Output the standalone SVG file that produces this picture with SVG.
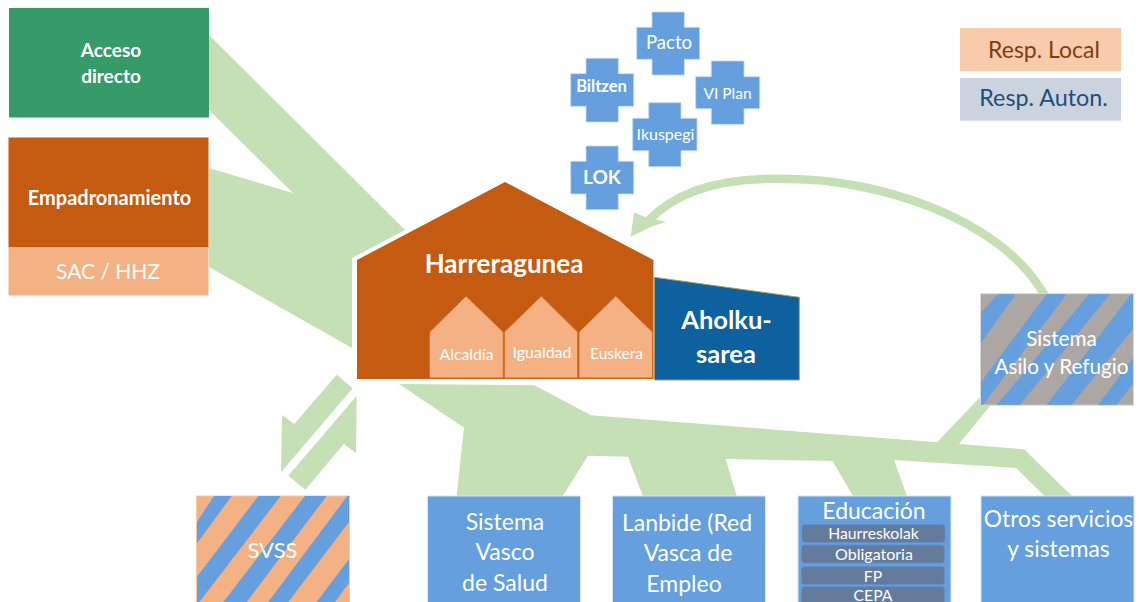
<svg xmlns="http://www.w3.org/2000/svg" width="1139" height="602" viewBox="0 0 1139 602">
<style>
text{font-family:"Lato","Carlito","Open Sans",sans-serif;fill:#fff;text-anchor:middle}
.b{font-weight:700}
.flow{fill:#c5e0b4;stroke:none}
.blue{fill:#659fde}
.cross{fill:#659fde;stroke:#c4d9f0;stroke-width:.8}
.bx{stroke:#dbe6f3;stroke-width:1}
.org{fill:#c55a11}
.lo{fill:#f4b183}
.sub{fill:#f4b183;stroke:#d9681f;stroke-width:1}
.pill{fill:#647b9c;stroke:#5b91cf;stroke-width:.8}
</style>
<g id="connectors">
<polygon class="flow" points="209,35 405,230 352,258 352,348 209,267 209,168 293,193 209,110"/>
<polygon class="flow" points="336.7,374.7 352.7,388.3 281,472.3 282,415 294.3,424"/>
<polygon class="flow" points="356.7,395.7 356,453 343.7,444 305.3,489.7 288.3,475.7"/>
<polygon class="flow" points="399,384 534.3,385.3 591,415.3 937,442.3 985,392 995,400 959,444 1024,449.3 1072,496 1044.5,496 1016,468 894,460 907,496 853,496 832.5,461 725.7,459 736.7,496 642.8,496 628,456.7 588,455.7 562.7,496 456.7,496 464,427.7"/>
<path d="M1045,296C1000,215 870,178 786,179C730,177 680,187 648,221" fill="none" stroke="#c5e0b4" stroke-width="8.500"/>
<polygon class="flow" points="630.7,236.7 634,212.3 645,217 666,222 653,226"/>
</g>
<g id="acceso"><rect x="9" y="8" width="200" height="109.500" fill="#359b68"/>
<text class="b" x="111" y="57" font-size="19">Acceso</text><text class="b" x="111" y="83" font-size="19">directo</text></g>
<g id="empadronamiento"><rect class="org" x="8.500" y="137.500" width="200" height="110"/>
<text class="b" x="109.500" y="205" font-size="20">Empadronamiento</text></g>
<g id="sac"><rect class="lo" x="8.500" y="247" width="200" height="48.500"/>
<text x="108" y="279" font-size="21">SAC / HHZ</text></g>
<g id="harreragunea"><polygon class="org" points="505,182 653.500,260 653.500,379 357,379 357,260"/>
<text class="b" x="504" y="273" font-size="26">Harreragunea</text></g>
<g id="alcaldia"><polygon class="sub" points="429.500,332 466,296 503.300,332 503.300,378 429.500,378"/>
<text x="466.500" y="360" font-size="15.800">Alcaldía</text></g>
<g id="igualdad"><polygon class="sub" points="504.300,332 541.300,296 577.700,332 577.700,378 504.300,378"/>
<text x="542" y="358" font-size="16">Igualdad</text></g>
<g id="euskera"><polygon class="sub" points="579,332 615.700,296 652.500,332 652.500,378 579,378"/>
<text x="616.500" y="359" font-size="15.500">Euskera</text></g>
<g id="aholkusarea"><polygon points="654.300,277.300 799.300,297.300 799.300,380 654.300,380" fill="#0c619e" stroke="#b39c56" stroke-width="1"/>
<text class="b" x="726.500" y="329" font-size="25.500">Aholku-</text><text class="b" x="726" y="363" font-size="25.500">sarea</text></g>
<g id="pacto"><polygon class="cross" points="652,12 684.300,12 684.300,27.300 699.700,27.300 699.700,59.300 684.300,59.300 684.300,75 652,75 652,59.300 636.700,59.300 636.700,27.300 652,27.300"/>
<text x="669" y="49" font-size="18.600">Pacto</text></g>
<g id="biltzen"><polygon class="cross" points="586,58.300 618.300,58.300 618.300,73.700 633.700,73.700 633.700,106.300 618.300,106.300 618.300,122 586,122 586,106.300 570.700,106.300 570.700,73.700 586,73.700"/>
<text class="b" x="601.500" y="92" font-size="16.500">Biltzen</text></g>
<g id="viplan"><polygon class="cross" points="711.300,61 744,61 744,76.700 759.700,76.700 759.700,108.700 744,108.700 744,124.300 711.300,124.300 711.300,108.700 695.700,108.700 695.700,76.700 711.300,76.700"/>
<text x="727.500" y="99" font-size="15.500">VI Plan</text></g>
<g id="ikuspegi"><polygon class="cross" points="648.700,102.700 681,102.700 681,118.300 697,118.300 697,150.700 681,150.700 681,166.700 648.700,166.700 648.700,150.700 632.700,150.700 632.700,118.300 648.700,118.300"/>
<text x="665.500" y="140" font-size="16">Ikuspegi</text></g>
<g id="lok"><polygon class="cross" points="586,146 618.300,146 618.300,161.300 633.700,161.300 633.700,194 618.300,194 618.300,209.700 586,209.700 586,194 570.700,194 570.700,161.300 586,161.300"/>
<text class="b" x="602" y="184" font-size="19">LOK</text></g>
<g id="resp-local"><rect x="960" y="28" width="161" height="43" fill="#f8cbad"/>
<text x="1044" y="58" font-size="23" style="fill:#843c0c">Resp. Local</text></g>
<g id="resp-auton"><rect x="960" y="78" width="161" height="42.700" fill="#cbd4de"/>
<text x="1043.500" y="106" font-size="23.300" style="fill:#1f4e79">Resp. Auton.</text></g>
<g id="asilo"><rect x="980.500" y="293.700" width="153" height="111.500" fill="#aca7a5" stroke="#d9d9d9" stroke-width="1"/>
<g class="blue">
<polygon points="998,294.200 1015.700,294.200 981,343 981,313"/>
<polygon points="1046.700,294.200 1066.700,294.200 983,404.700 981,404.700 981,382"/>
<polygon points="1089,294.200 1110,294.200 1020,404.700 997,404.700"/>
<polygon points="1131,294.200 1133,294.200 1133,329 1071.700,404.700 1046.700,404.700"/>
<polygon points="1133,358 1133,384 1116.700,404.700 1098.300,404.700"/>
</g>
<text x="1061.500" y="346" font-size="20.700">Sistema</text><text x="1061.500" y="374" font-size="20.700">Asilo y Refugio</text></g>
<g id="svss"><rect x="196.500" y="496" width="153" height="107" fill="#f4b183" stroke="#f4c9ab" stroke-width="1"/>
<g class="blue">
<polygon points="214,496 231.700,496 197,543.300 197,521.700"/>
<polygon points="258.300,496 280.700,496 199.300,602 197,602 197,576.700"/>
<polygon points="305,496 326.700,496 246.700,602 223.300,602"/>
<polygon points="347.300,496 349,496 349,522 288.300,602 268.300,602"/>
<polygon points="349,559 349,583 335,602 316.700,602"/>
</g>
<text x="272.500" y="558" font-size="22">SVSS</text></g>
<g id="salud"><rect class="blue bx" x="427.500" y="496" width="153" height="107"/>
<text x="505" y="530" font-size="23">Sistema</text><text x="505" y="560" font-size="23">Vasco</text><text x="505" y="591" font-size="23">de Salud</text></g>
<g id="lanbide"><rect class="blue bx" x="612.500" y="496" width="153" height="107"/>
<text x="687" y="531" font-size="23">Lanbide (Red</text><text x="688" y="561" font-size="23">Vasca de</text><text x="684" y="592" font-size="23">Empleo</text></g>
<g id="educacion"><rect class="blue bx" x="798" y="496" width="153" height="107"/>
<text x="874" y="519" font-size="23">Educación</text>
<rect class="pill" x="802" y="524.500" width="143" height="18" rx="3"/><text x="873.500" y="539" font-size="15.700">Haurreskolak</text>
<rect class="pill" x="801.500" y="545" width="143" height="18" rx="3"/><text x="874" y="560" font-size="16">Obligatoria</text>
<rect class="pill" x="801.500" y="566.500" width="143" height="18" rx="3"/><text x="873" y="582" font-size="15.700">FP</text>
<rect class="pill" x="801.500" y="586.500" width="143" height="18" rx="3"/><text x="873" y="601" font-size="15.700">CEPA</text></g>
<g id="otros"><rect class="blue bx" x="981" y="496" width="153" height="107"/>
<text x="1058.500" y="527" font-size="22.800">Otros servicios</text><text x="1058.500" y="557" font-size="22.800">y sistemas</text></g>
</svg>
